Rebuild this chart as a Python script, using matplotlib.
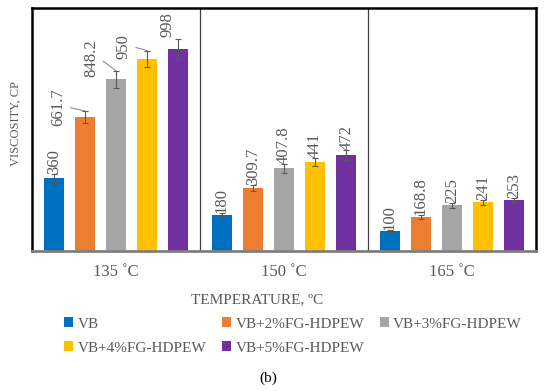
import matplotlib
matplotlib.use("Agg")
import matplotlib.pyplot as plt
from matplotlib.patches import Patch
import numpy as np

plt.rcParams['font.family'] = ['Liberation Serif', 'DejaVu Serif']

temps = ["135 ˚C", "150 ˚C", "165 ˚C"]
series = ["VB", "VB+2%FG-HDPEW", "VB+3%FG-HDPEW", "VB+4%FG-HDPEW", "VB+5%FG-HDPEW"]
colors = ["#0070C0", "#ED7D31", "#A5A5A5", "#FFC000", "#7030A0"]
vb = [360, 180, 100]
vb2 = [661.7, 309.7, 168.8]
vb3 = [848.2, 407.8, 225]
vb4 = [950, 441, 241]
vb5 = [998, 472, 253]
err_vb = [20, 8, 6]
err_vb2 = [30, 14, 9]
err_vb3 = [42, 22, 11]
err_vb4 = [40, 19, 13]
err_vb5 = [50, 25, 10]
labels_vb = ["360", "180", "100"]
labels_vb2 = ["661.7", "309.7", "168.8"]
labels_vb3 = ["848.2", "407.8", "225"]
labels_vb4 = ["950", "441", "241"]
labels_vb5 = ["998", "472", "253"]

values = [vb, vb2, vb3, vb4, vb5]
errors = [err_vb, err_vb2, err_vb3, err_vb4, err_vb5]
labels = [labels_vb, labels_vb2, labels_vb3, labels_vb4, labels_vb5]

fig = plt.figure(figsize=(5.5, 3.91), dpi=100)
ax = fig.add_axes([32/550, 1-251/391, (536-32)/550, (251-8)/391])

x = np.arange(len(temps))
step = 0.185
width = 0.119
txtcol = "#595959"
# leader-line label offsets (points): (dx, dy) of label right-edge / vertical centre
offsets = {(1, 0): (-13.5, 3), (2, 0): (-12, 9), (3, 0): (-11, 3)}
for i in range(5):
    pos = x + (i - 2) * step
    ax.bar(pos, values[i], width, color=colors[i], zorder=2)
    ax.errorbar(pos, values[i], yerr=errors[i], fmt='none', ecolor="#595959",
                elinewidth=0.8, capsize=2.5, capthick=0.8, zorder=3)
    for j in range(len(temps)):
        top = values[i][j] + errors[i][j]
        if (i, j) in offsets:
            dx, dy = offsets[(i, j)]
            ax.annotate(labels[i][j], xy=(pos[j], top), xytext=(dx, dy),
                        textcoords='offset points', rotation=90, ha='right', va='center',
                        fontsize=12, color=txtcol,
                        arrowprops=dict(arrowstyle='-', color="#7f7f7f", lw=0.7,
                                        shrinkA=1, shrinkB=0, relpos=(1.0, 0.5)))
        elif (i, j) == (4, 0):
            ax.annotate(labels[i][j], xy=(pos[j], top), xytext=(-8, 1),
                        textcoords='offset points', rotation=90, ha='center', va='bottom',
                        fontsize=12, color=txtcol)
        else:
            ax.annotate(labels[i][j], xy=(pos[j], top), xytext=(0, 0),
                        textcoords='offset points', rotation=90, ha='center', va='bottom',
                        fontsize=12, color=txtcol)

ax.set_xlim(-0.5, 2.5)
ax.set_ylim(0, 1200)
ax.set_yticks([])
ax.set_xticks(x)
ax.set_xticklabels(temps, fontsize=12, color=txtcol)
ax.tick_params(axis='x', length=0, pad=9)
for b in [0.5, 1.5]:
    ax.axvline(b, color="#404040", lw=0.9, zorder=1)
for s in ['left', 'top', 'right']:
    ax.spines[s].set_linewidth(1.8)
    ax.spines[s].set_color('black')
ax.spines['bottom'].set_linewidth(2.0)
ax.spines['bottom'].set_color('#7f7f7f')

fig.text(16/550, 1-124/391, "VISCOSITY, CP", rotation=90, ha='center', va='center',
         fontsize=9, color=txtcol)
fig.text(257/550, 1-300/391, "TEMPERATURE, ºC", ha='center', va='center', fontsize=11, color=txtcol)

handles = [Patch(facecolor=c, edgecolor='none') for c in colors]
order = [0, 3, 1, 4, 2]
leg = fig.legend([handles[k] for k in order], [series[k] for k in order],
                 loc='center', bbox_to_anchor=(293/550, 1-336/391), ncol=3, frameon=False,
                 fontsize=11, handlelength=0.6, handleheight=0.6, handletextpad=0.3,
                 columnspacing=1.0, labelspacing=0.7)
for t in leg.get_texts():
    t.set_color(txtcol)

fig.text(268/550, 1-378/391, "(b)", ha='center', va='center', fontsize=11, color='black')

fig.savefig("out.png", dpi=100)
